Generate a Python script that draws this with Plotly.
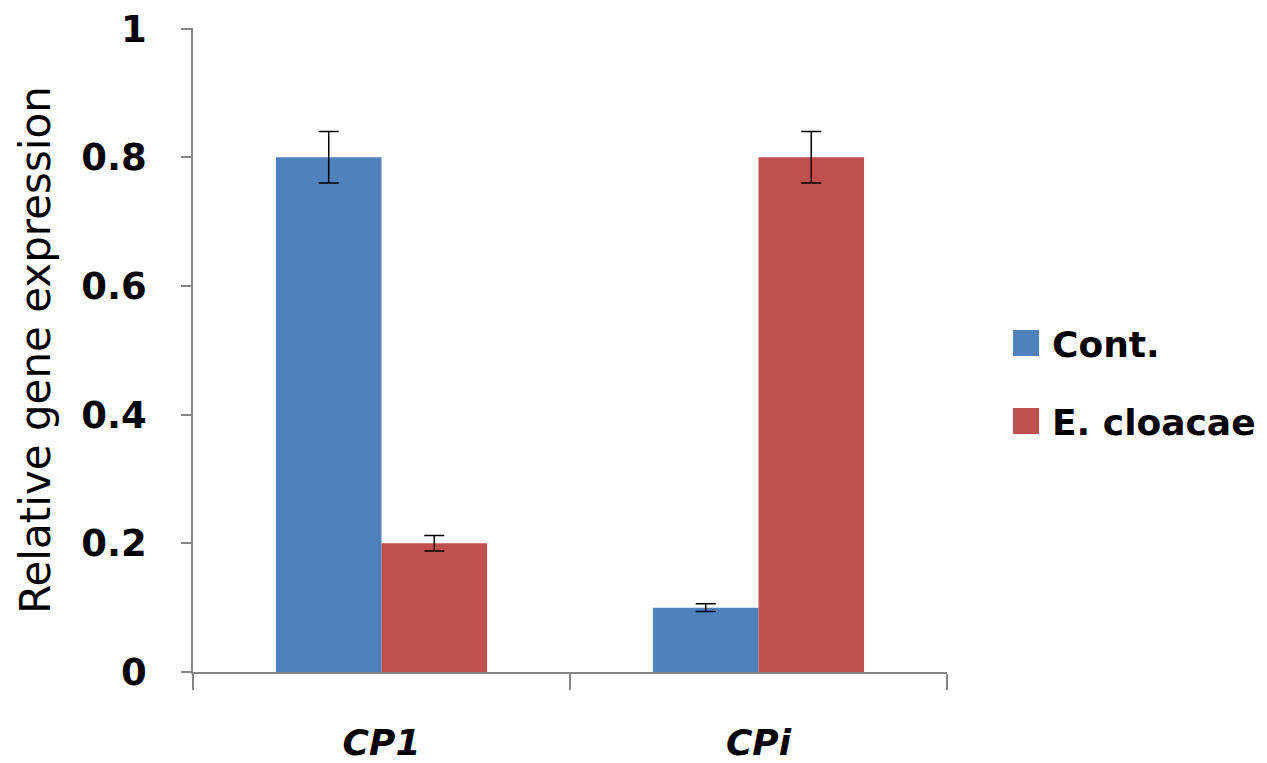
import plotly.graph_objects as go

genes = ["<i>CP1</i>", "<i>CPi</i>"]
series_names = ["Cont.", "E. cloacae"]
series_colors = ["#4F81BD", "#C0504D"]
cont_values = [0.80, 0.10]
cont_errors = [0.04, 0.006]
cloacae_values = [0.20, 0.80]
cloacae_errors = [0.012, 0.04]
y_ticks = [0, 0.2, 0.4, 0.6, 0.8, 1]
y_tick_labels = ["0", "0.2", "0.4", "0.6", "0.8", "1"]

font_family = "DejaVu Sans"

# plot area in pixels (page has 8px body margin)
L, R, T, B = 185, 328, 20, 99
W, H = 1267, 763
pw, ph = W - L - R, H - T - B


def px(x, y):
    # pixel -> paper coords
    return (x - L) / pw, (H - B - y) / ph


fig = go.Figure()
for name, color, vals, errs in zip(series_names, series_colors,
                                   [cont_values, cloacae_values],
                                   [cont_errors, cloacae_errors]):
    fig.add_trace(go.Bar(
        x=genes, y=vals, name=name,
        marker=dict(color=color, line=dict(width=0)),
        error_y=dict(type="data", array=errs, color="black", thickness=1.5, width=10),
    ))

# legend drawn by hand so the swatches can be big squares
for i, (name, color) in enumerate(zip(series_names, series_colors)):
    top = 322 + i * 78
    x0, y0 = px(1005, top + 26)
    x1, y1 = px(1031, top)
    fig.add_shape(type="rect", xref="paper", yref="paper", x0=x0, x1=x1, y0=y0, y1=y1,
                  fillcolor=color, line=dict(width=0))
    tx, ty = px(1042, top + 14)
    fig.add_annotation(text="<b>%s</b>" % name, xref="paper", yref="paper", x=tx, y=ty,
                       xanchor="left", yanchor="middle", showarrow=False,
                       font=dict(size=36, family=font_family, color="black"))

fig.update_layout(
    width=W, height=H,
    barmode="group", bargap=0.44, bargroupgap=0,
    plot_bgcolor="white", paper_bgcolor="white",
    margin=dict(l=L, r=R, t=T, b=B),
    font=dict(family=font_family, color="black"),
    showlegend=False,
)
fig.update_xaxes(
    showline=True, linecolor="#868686", linewidth=1.5,
    ticks="outside", tickson="boundaries", ticklen=16, tickcolor="#868686", tickwidth=1.5,
    tickfont=dict(size=36, family=font_family, weight="bold"),
    ticklabelstandoff=38,
    showgrid=False, automargin=False,
)
fig.update_yaxes(
    range=[0, 1.001], tickvals=y_ticks, ticktext=y_tick_labels,
    showline=True, linecolor="#868686", linewidth=1.5,
    ticks="outside", ticklen=10, tickcolor="#868686", tickwidth=1.5,
    tickfont=dict(size=37, family=font_family, weight="bold"),
    ticklabelstandoff=27, ticklabeloverflow="allow",
    showgrid=False, zeroline=False, automargin=False,
    title=dict(text="Relative gene expression", font=dict(size=42, family=font_family), standoff=18),
)

fig.write_html("out.html")
